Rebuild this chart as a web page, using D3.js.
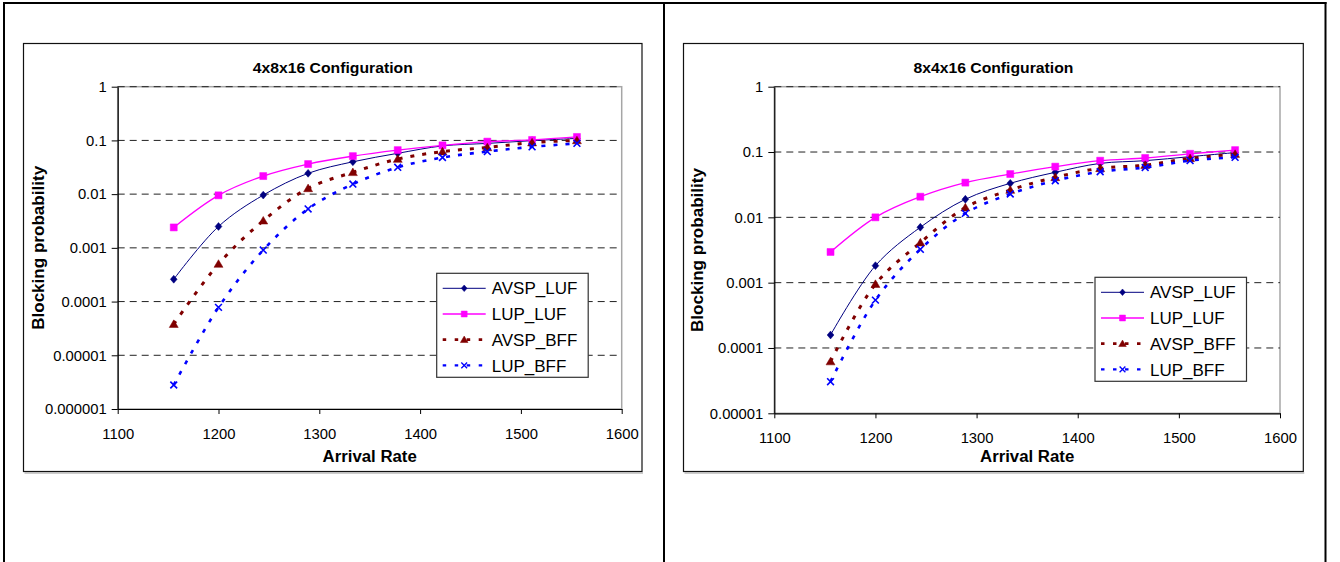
<!DOCTYPE html>
<html>
<head>
<meta charset="utf-8">
<script src="https://cdn.jsdelivr.net/npm/d3@7"></script>
<style>
    body { margin: 0; background: #fff; }
    svg text { font-family: "Liberation Sans", Arial, sans-serif; fill: #000; }
</style>
</head>
<body>
<div id="charts"></div>
<script>
// arrival rates, same for both configurations
const arrivalRates = [1155.6, 1200, 1244.4, 1288.9, 1333.3, 1377.8, 1422.2, 1466.7, 1511.1, 1555.6];
const seriesNames = ["AVSP_LUF", "LUP_LUF", "AVSP_BFF", "LUP_BFF"];

// 4x8x16 configuration
const avspLuf4x8 = [0.00026, 0.0025, 0.0096, 0.0244, 0.040, 0.0575, 0.079, 0.088, 0.099, 0.109];
const lupLuf4x8 = [0.0024, 0.0095, 0.0217, 0.0363, 0.051, 0.066, 0.081, 0.095, 0.102, 0.116];
const avspBff4x8 = [0.000038, 0.0005, 0.0032, 0.0128, 0.0255, 0.045, 0.062, 0.074, 0.091, 0.100];
const lupBff4x8 = [0.0000028, 0.000078, 0.00091, 0.0053, 0.0154, 0.0316, 0.048, 0.062, 0.076, 0.088];

// 8x4x16 configuration
const avspLuf8x4 = [0.000158, 0.00182, 0.00705, 0.0189, 0.0332, 0.0489, 0.067, 0.0737, 0.085, 0.098];
const lupLuf8x4 = [0.00295, 0.010, 0.0207, 0.034, 0.046, 0.0597, 0.0737, 0.081, 0.094, 0.107];
const avspBff8x4 = [0.000062, 0.00095, 0.0041, 0.0141, 0.0262, 0.041, 0.0563, 0.063, 0.080, 0.093];
const lupBff8x4 = [0.0000305, 0.00054, 0.00324, 0.0115, 0.0228, 0.0364, 0.050, 0.058, 0.074, 0.083];

// ticks
const xTicks = [1100, 1200, 1300, 1400, 1500, 1600];
const yTicks4x8 = [1, 0.1, 0.01, 0.001, 0.0001, 0.00001, 0.000001];
const yLabels4x8 = ["1", "0.1", "0.01", "0.001", "0.0001", "0.00001", "0.000001"];
const yTicks8x4 = [1, 0.1, 0.01, 0.001, 0.0001, 0.00001];
const yLabels8x4 = ["1", "0.1", "0.01", "0.001", "0.0001", "0.00001"];

const seriesStyles = [
    { color: "#000080", width: 1, dash: null, marker: "diamond", size: 3.4 },
    { color: "#ff00ff", width: 1.3, dash: null, marker: "square", size: 3.5 },
    { color: "#800000", width: 3, dash: "4,8", marker: "triangle", size: 3.9 },
    { color: "#0000ff", width: 2.6, dash: "4,8", marker: "x", size: 3.4 }
];

function markerPath(type, s) {
    switch (type) {
        case "diamond": return `M0,${-s * 1.15}L${s},0L0,${s * 1.15}L${-s},0Z`;
        case "square": return `M${-s},${-s}H${s}V${s}H${-s}Z`;
        case "triangle": return `M0,${-s * 1.1}L${s * 1.15},${s * 0.85}L${-s * 1.15},${s * 0.85}Z`;
        case "x": return `M${-s},${-s}L${s},${s}M${-s},${s}L${s},${-s}`;
    }
}

class BlockingChart {
    constructor(svg, opts) {
        this.svg = svg;
        this.opts = opts;
        this.g = svg.append("g");

        let p = opts.plot;
        this.x = d3.scaleLinear().domain([1100, 1600]).range([p.x0, p.x1]);
        this.y = d3.scaleLog().domain([opts.yTicks[opts.yTicks.length - 1], 1]).range([p.y1, p.y0]);
    }

    drawFrame() {
        let f = this.opts.frame;
        this.g.append("rect")
            .attr("x", f.x0).attr("y", f.y0)
            .attr("width", f.x1 - f.x0).attr("height", f.y1 - f.y0)
            .attr("fill", "#fff")
            .attr("stroke", "#111")
            .attr("stroke-width", 1.2);
        // little shadow under the chart area
        this.g.append("line")
            .attr("x1", f.x0 + 1).attr("x2", f.x1 + 1)
            .attr("y1", f.y1 + 1.5).attr("y2", f.y1 + 1.5)
            .attr("stroke", "#999");

        this.g.append("text")
            .attr("x", (f.x0 + f.x1) / 2)
            .attr("y", 73.3)
            .attr("text-anchor", "middle")
            .attr("textLength", 160)
            .attr("lengthAdjust", "spacingAndGlyphs")
            .style("font-size", "14.5px")
            .style("font-weight", "bold")
            .text(this.opts.title);
    }

    drawAxes() {
        let p = this.opts.plot;
        let y = this.y;

        this.g.append("rect")
            .attr("x", p.x0).attr("y", p.y0)
            .attr("width", p.x1 - p.x0).attr("height", p.y1 - p.y0)
            .attr("fill", "none")
            .attr("stroke", "#a6a6a6")
            .attr("stroke-width", 1.5);

        // dashed gridlines
        this.g.append("g").selectAll("line")
            .data(this.opts.yTicks.slice(0, -1))
            .enter().append("line")
            .attr("x1", p.x0).attr("x2", p.x1)
            .attr("y1", d => y(d)).attr("y2", d => y(d))
            .attr("stroke", "#222")
            .attr("stroke-dasharray", "7,5");

        let labels = this.opts.yLabels;
        let yAxis = d3.axisLeft(y)
            .tickValues(this.opts.yTicks)
            .tickFormat((d, i) => labels[i])
            .tickSize(6)
            .tickSizeOuter(0)
            .tickPadding(5);
        let ya = this.g.append("g")
            .attr("transform", `translate(${p.x0},0)`)
            .call(yAxis);

        let xAxis = d3.axisBottom(this.x)
            .tickValues(xTicks)
            .tickFormat(d3.format("d"))
            .tickSize(5)
            .tickSizeOuter(0)
            .tickPadding(14);
        let xa = this.g.append("g")
            .attr("transform", `translate(0,${p.y1})`)
            .call(xAxis);

        [ya, xa].forEach(a => {
            a.select(".domain").attr("stroke", "#000").attr("stroke-width", 1.2);
            a.selectAll(".tick line").attr("stroke", "#000");
            a.selectAll(".tick text")
                .style("font-size", "14.8px")
                .style("font-family", '"Liberation Sans", Arial, sans-serif')
                .attr("fill", "#000");
        });

        this.g.append("text")
            .attr("transform", `translate(${this.opts.yLabelX},${(p.y0 + p.y1) / 2}) rotate(-90)`)
            .attr("text-anchor", "middle")
            .attr("dy", "0.35em")
            .attr("textLength", 164)
            .attr("lengthAdjust", "spacingAndGlyphs")
            .style("font-size", "16.8px")
            .style("font-weight", "bold")
            .text("Blocking probability");

        this.g.append("text")
            .attr("x", (p.x0 + p.x1) / 2)
            .attr("y", 462)
            .attr("text-anchor", "middle")
            .style("font-size", "16.8px")
            .style("font-weight", "bold")
            .text("Arrival Rate");
    }

    drawSeries() {
        let x = this.x, y = this.y;
        let line = d3.line()
            .x((d, i) => x(arrivalRates[i]))
            .y(d => y(d))
            .curve(d3.curveCatmullRom.alpha(0.5));

        this.opts.series.forEach((values, k) => {
            let st = seriesStyles[k];
            let sg = this.g.append("g").attr("class", "series");
            sg.append("path")
                .attr("d", line(values))
                .attr("fill", "none")
                .attr("stroke", st.color)
                .attr("stroke-width", st.width)
                .attr("stroke-dasharray", st.dash);

            sg.selectAll(".mark")
                .data(values)
                .enter().append("path")
                .attr("class", "mark")
                .attr("transform", (d, i) => `translate(${x(arrivalRates[i])},${y(d)})`)
                .attr("d", markerPath(st.marker, st.size))
                .attr("fill", st.marker === "x" ? "none" : st.color)
                .attr("stroke", st.color)
                .attr("stroke-width", st.marker === "x" ? 1.6 : 0.5);
        });
    }

    drawLegend() {
        let lg = this.opts.legend;
        let box = this.g.append("g").attr("transform", `translate(${lg.x},${lg.y})`);
        box.append("rect")
            .attr("width", 151.5).attr("height", 104)
            .attr("fill", "#fff")
            .attr("stroke", "#333")
            .attr("stroke-width", 1.2);

        seriesNames.forEach((name, k) => {
            let st = seriesStyles[k];
            let cy = 15 + k * 25.7;
            box.append("line")
                .attr("x1", 6).attr("x2", 49)
                .attr("y1", cy).attr("y2", cy)
                .attr("stroke", st.color)
                .attr("stroke-width", st.dash ? st.width * 0.9 : st.width)
                .attr("stroke-dasharray", st.dash ? "3.5,8.5" : null);
            box.append("path")
                .attr("transform", `translate(27.5,${cy})`)
                .attr("d", markerPath(st.marker, st.size * 0.85))
                .attr("fill", st.marker === "x" ? "none" : st.color)
                .attr("stroke", st.color)
                .attr("stroke-width", st.marker === "x" ? 1.3 : 0.5);
            box.append("text")
                .attr("x", 55)
                .attr("y", cy)
                .attr("dy", "0.36em")
                .style("font-size", "17px")
                .text(name);
        });
    }

    render() {
        this.drawFrame();
        this.drawAxes();
        this.drawSeries();
        this.drawLegend();
    }
}

let svg = d3.select("#charts").append("svg")
    .attr("width", 1340)
    .attr("height", 562)
    .style("display", "block");

// the table cell borders around both charts
let borders = svg.append("g").attr("stroke", "#000").attr("stroke-width", 2);
borders.append("line").attr("x1", 3).attr("x2", 1326.5).attr("y1", 3).attr("y2", 3);
borders.append("line").attr("x1", 4).attr("x2", 4).attr("y1", 2).attr("y2", 562);
borders.append("line").attr("x1", 664).attr("x2", 664).attr("y1", 2).attr("y2", 562);
borders.append("line").attr("x1", 1325.5).attr("x2", 1325.5).attr("y1", 2).attr("y2", 562);

new BlockingChart(svg, {
    title: "4x8x16 Configuration",
    frame: { x0: 23.5, y0: 43.5, x1: 642, y1: 471.5 },
    plot: { x0: 117.7, x1: 621.7, y0: 86.7, y1: 409 },
    yTicks: yTicks4x8,
    yLabels: yLabels4x8,
    yLabelX: 38.5,
    series: [avspLuf4x8, lupLuf4x8, avspBff4x8, lupBff4x8],
    legend: { x: 436.7, y: 273.3 }
}).render();

new BlockingChart(svg, {
    title: "8x4x16 Configuration",
    frame: { x0: 683.5, y0: 43.5, x1: 1303.3, y1: 471.5 },
    plot: { x0: 774.3, x1: 1280, y0: 86.7, y1: 413.3 },
    yTicks: yTicks8x4,
    yLabels: yLabels8x4,
    yLabelX: 697.5,
    series: [avspLuf8x4, lupLuf8x4, avspBff8x4, lupBff8x4],
    legend: { x: 1095, y: 277.3 }
}).render();
</script>
</body>
</html>
